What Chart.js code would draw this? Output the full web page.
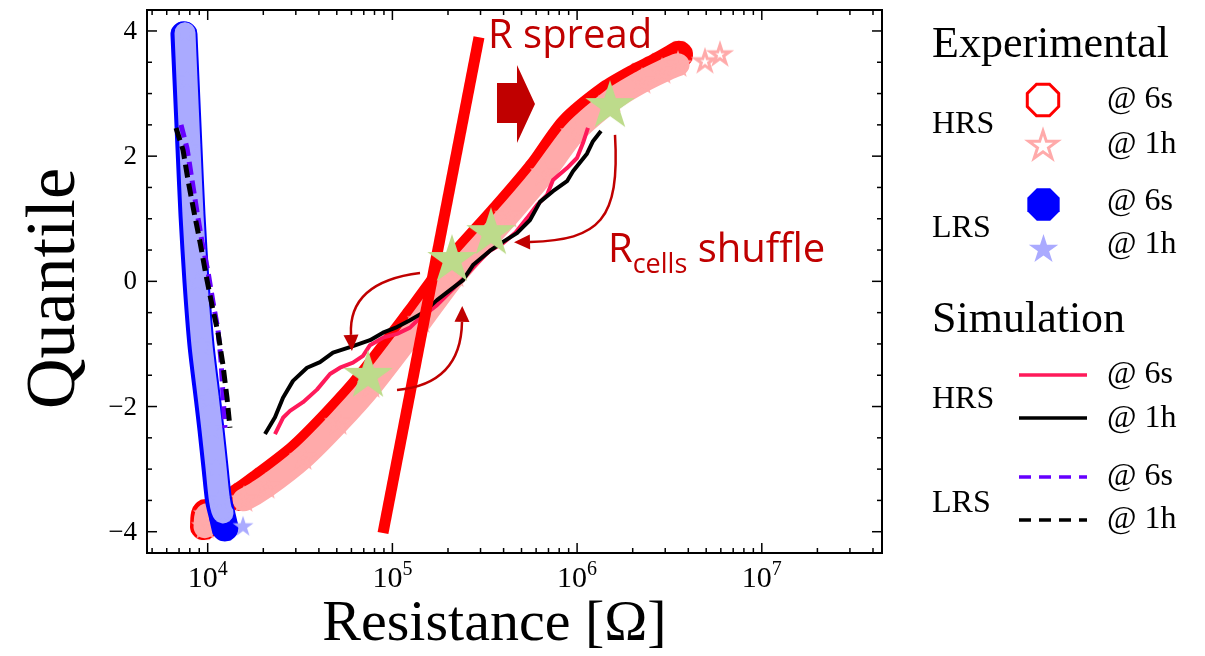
<!DOCTYPE html>
<html><head><meta charset="utf-8">
<script src="https://cdn.jsdelivr.net/npm/chart.js@4/dist/chart.umd.min.js"></script>
<style>html,body{margin:0;padding:0;background:#fff;}canvas{display:block;}</style>
</head><body>
<canvas id="c" width="1205" height="656"></canvas>
<script>
// ---------------- data (Resistance [Ohm], Quantile) ----------------
const xTickDecades = [4, 5, 6, 7];
const yTickLabels = [4, 2, 0, -2, -4];

// Experimental HRS @ 6s (red open octagons)
const hrs6sR = [9550, 9790, 14960, 19440, 30830, 47690, 71950, 134200, 205000, 397000, 621800, 903900, 1470000, 2136000, 2742000, 3561000];
const hrs6sQ = [-3.91, -3.70, -3.44, -3.20, -2.74, -2.18, -1.59, -0.55, 0.18, 1.13, 1.81, 2.47, 2.99, 3.27, 3.43, 3.62];
// Experimental HRS @ 1h (pink open stars)
const hrs1hR = [9670, 9913, 15720, 20690, 32810, 50760, 76590, 142800, 218300, 422500, 661700, 962000, 1545000, 2245000, 2881000, 3517000, 4925000, 5937000];
const hrs1hQ = [-3.92, -3.73, -3.49, -3.28, -2.82, -2.26, -1.67, -0.63, 0.10, 1.05, 1.73, 2.37, 2.90, 3.19, 3.35, 3.46, 3.51, 3.62];
// Experimental LRS @ 6s (blue filled octagons)
const lrs6sR = [7440, 7630, 7920, 8222, 8645, 9198, 9975, 10420, 10950, 11440, 11950, 12410];
const lrs6sQ = [3.94, 3.22, 2.13, 1.06, -0.01, -1.02, -1.89, -2.37, -2.97, -3.49, -3.73, -3.94];
// Experimental LRS @ 1h (light blue filled stars)
const lrs1hR = [7535, 7725, 8022, 8325, 8752, 9314, 10100, 10550, 11090, 11580, 12100, 15530];
const lrs1hQ = [3.97, 3.22, 2.13, 1.06, -0.01, -1.02, -1.89, -2.37, -2.97, -3.49, -3.70, -3.92];

// Simulation HRS @ 6s / @ 1h
const simHrs6sR = [23140, 25570, 27900, 32810, 39050, 45930, 52040, 61180, 69310, 75620, 88930, 105900, 124500, 135900, 174300, 205000, 241100, 287100, 337600, 397000, 461000, 535600, 606600, 687100, 740600, 881900, 998600, 1076000, 1145000];
const simHrs6sQ = [-2.44, -2.18, -2.07, -1.93, -1.73, -1.48, -1.38, -1.30, -1.19, -1.02, -0.90, -0.84, -0.74, -0.63, -0.38, -0.17, 0.04, 0.29, 0.49, 0.61, 0.77, 1.01, 1.22, 1.38, 1.62, 1.81, 1.97, 2.21, 2.45];
const simHrs1hR = [20430, 23140, 25570, 28960, 34490, 40550, 47690, 58940, 75620, 88930, 105900, 124500, 146400, 174300, 205000, 241100, 273100, 337600, 397000, 472600, 555900, 629800, 740600, 881900, 949900, 1131000, 1219000, 1347000];
const simHrs1hQ = [-2.44, -2.17, -1.86, -1.59, -1.38, -1.29, -1.14, -1.05, -0.94, -0.82, -0.73, -0.62, -0.50, -0.30, -0.14, 0.02, 0.26, 0.49, 0.63, 0.77, 0.98, 1.27, 1.44, 1.60, 1.76, 2.04, 2.24, 2.40];
// Simulation LRS @ 6s / @ 1h
const simLrs6sR = [7169, 7725, 8222, 8752, 9314, 10040, 10680, 11370, 11800, 12100, 12410];
const simLrs6sQ = [2.50, 2.13, 1.62, 1.11, 0.63, 0.15, -0.33, -0.78, -1.26, -1.81, -2.34];
const simLrs1hR = [6737, 7351, 7822, 8429, 9085, 9790, 10550, 11370, 12100, 12720, 13200];
const simLrs1hQ = [2.45, 2.10, 1.62, 1.11, 0.63, 0.10, -0.38, -0.82, -1.34, -1.86, -2.34];

// Annotations (data units)
const spreadR = [294300, 88930];
const spreadQ = [3.90, -4.02];
const shuffleStarR = [73780, 210200, 341800, 1507000];
const shuffleStarQ = [-1.51, 0.34, 0.77, 2.80];
const arrowDownPts = [[141100, 0.134], [57500, -0.009], [59680, -0.856]];
const arrowUpPts = [[105900, -1.735], [235100, -1.639], [238100, -0.648]];
const arrowLeftPts = [[1604000, 2.339], [1707000, 0.981], [1330000, 0.661], [555900, 0.630]];
const blockArrowTip = [591600, 2.834];
const spreadLabelAt = [329300, 3.728];
const shuffleLabelAt = [1470000, 0.310];

const legendTitles = ['Experimental', 'Simulation'];
const legendStates = ['HRS', 'LRS'];
const legendTimes = ['@ 6s', '@ 1h'];

// ---------------- styling helpers ----------------
const SERIF = '"Liberation Serif", "Times New Roman", serif';
const SANS = '"Open Sans", "Noto Sans", sans-serif';
const DARKRED = '#c00000';

function makeMarker(shape, r, fill, stroke, lw) {
  const pad = Math.ceil(lw || 0) + 2;
  const s = Math.ceil(2 * r + 2 * pad);
  const cv = document.createElement('canvas');
  cv.width = s; cv.height = s;
  const g = cv.getContext('2d');
  g.translate(s / 2, s / 2);
  g.beginPath();
  if (shape === 'octagon') {
    for (let i = 0; i < 8; i++) {
      const a = Math.PI / 8 + i * Math.PI / 4;
      const px = r * Math.cos(a), py = r * Math.sin(a);
      i ? g.lineTo(px, py) : g.moveTo(px, py);
    }
  } else {
    const ri = r * 0.382;
    for (let i = 0; i < 10; i++) {
      const a = -Math.PI / 2 + i * Math.PI / 5;
      const rr = i % 2 ? ri : r;
      const px = rr * Math.cos(a), py = rr * Math.sin(a);
      i ? g.lineTo(px, py) : g.moveTo(px, py);
    }
  }
  g.closePath();
  if (fill) { g.fillStyle = fill; g.fill(); }
  if (stroke) { g.strokeStyle = stroke; g.lineWidth = lw; g.lineJoin = 'miter'; g.stroke(); }
  return cv;
}

const octRed = makeMarker('octagon', 13, null, '#ff0000', 2.5);
const starPink = makeMarker('star', 10, null, '#ffaaaa', 3);
const octBlue = makeMarker('octagon', 13.5, '#0000ff', null, 0);
const starLB = makeMarker('star', 11, '#aaaaff', null, 0);
const starGreen = makeMarker('star', 26, '#bddb8b', null, 0);

const legOctRed = makeMarker('octagon', 17, null, '#ff0000', 3);
const legStarPink = makeMarker('star', 15, null, '#ffaaaa', 3);
const legOctBlue = makeMarker('octagon', 17.5, '#0000ff', null, 0);
const legStarLB = makeMarker('star', 15.5, '#aaaaff', null, 0);

const pts = (R, Q) => R.map((r, i) => ({ x: r, y: Q[i] }));
const gaps = breaks => ({ borderColor: c => breaks.includes(c.p0DataIndex) ? 'rgba(0,0,0,0)' : undefined });

// ---------------- decorations plugin ----------------
function drawArrowHead(ctx, ex, ey, dx, dy, L, W) {
  const n = Math.hypot(dx, dy); dx /= n; dy /= n;
  ctx.beginPath();
  ctx.moveTo(ex + dx * L, ey + dy * L);
  ctx.lineTo(ex - dy * W / 2, ey + dx * W / 2);
  ctx.lineTo(ex + dy * W / 2, ey - dx * W / 2);
  ctx.closePath();
  ctx.fill();
}

const decor = {
  id: 'decor',
  afterDatasetsDraw(chart) {
    const { ctx, scales: { x, y } } = chart;
    const P = v => [x.getPixelForValue(v[0]), y.getPixelForValue(v[1])];
    ctx.save();
    ctx.strokeStyle = DARKRED; ctx.fillStyle = DARKRED; ctx.lineWidth = 2.5; ctx.lineCap = 'butt';
    [arrowDownPts, arrowUpPts].forEach(a => {
      const [p0, p1, p2] = a.map(P);
      ctx.beginPath(); ctx.moveTo(p0[0], p0[1]); ctx.quadraticCurveTo(p1[0], p1[1], p2[0], p2[1]); ctx.stroke();
      drawArrowHead(ctx, p2[0], p2[1], p2[0] - p1[0], p2[1] - p1[1], 16, 15);
    });
    {
      const [p0, p1, p2, p3] = arrowLeftPts.map(P);
      ctx.beginPath(); ctx.moveTo(p0[0], p0[1]); ctx.bezierCurveTo(p1[0], p1[1], p2[0], p2[1], p3[0], p3[1]); ctx.stroke();
      drawArrowHead(ctx, p3[0], p3[1], p3[0] - p2[0], p3[1] - p2[1], 16, 15);
    }
    {
      const [tx, ty] = P(blockArrowTip);
      const shape = [[-38, -21], [-18, -21], [-18, -39], [0, 0], [-18, 39], [-18, 19], [-38, 19]];
      ctx.beginPath();
      shape.forEach((s, i) => i ? ctx.lineTo(tx + s[0], ty + s[1]) : ctx.moveTo(tx + s[0], ty + s[1]));
      ctx.closePath(); ctx.fill();
    }
    ctx.textAlign = 'left'; ctx.textBaseline = 'alphabetic';
    {
      const [lx, ly] = P(spreadLabelAt);
      ctx.font = `40px ${SANS}`;
      ctx.fillText('R spread', lx, ly);
    }
    {
      let [lx, ly] = P(shuffleLabelAt);
      ctx.font = `40px ${SANS}`;
      ctx.fillText('R', lx, ly);
      lx += ctx.measureText('R').width;
      ctx.font = `27px ${SANS}`;
      ctx.fillText('cells', lx, ly + 11);
      lx += ctx.measureText('cells').width;
      ctx.font = `40px ${SANS}`;
      ctx.fillText(' shuffle', lx, ly);
    }
    ctx.restore();
  },
  afterDraw(chart) {
    const { ctx, chartArea: a, scales: { x, y } } = chart;
    ctx.save();
    ctx.strokeStyle = '#000'; ctx.lineWidth = 2;
    ctx.strokeRect(a.left, a.top, a.right - a.left, a.bottom - a.top);
    ctx.lineWidth = 1.5;
    const seg = (x1, y1, x2, y2) => { ctx.beginPath(); ctx.moveTo(x1, y1); ctx.lineTo(x2, y2); ctx.stroke(); };
    for (let k = 3; k <= 7; k++) {
      for (let m = 1; m <= 9; m++) {
        const v = m * Math.pow(10, k);
        if (v < x.min || v > x.max) continue;
        const px = x.getPixelForValue(v);
        const len = m === 1 ? 10 : 5;
        seg(px, a.bottom, px, a.bottom - len);
        seg(px, a.top, px, a.top + len);
      }
    }
    for (let v = -4; v <= 4.001; v += 0.5) {
      const py = y.getPixelForValue(v);
      const len = Math.abs(v % 2) < 1e-9 ? 10 : 5;
      seg(a.left, py, a.left + len, py);
      seg(a.right, py, a.right - len, py);
    }
    ctx.fillStyle = '#000';
    ctx.font = `27px ${SERIF}`;
    ctx.textAlign = 'right'; ctx.textBaseline = 'middle';
    yTickLabels.forEach(v => {
      ctx.fillText(v < 0 ? '\u2212' + Math.abs(v) : String(v), a.left - 10, y.getPixelForValue(v) + 1);
    });
    ctx.textBaseline = 'alphabetic'; ctx.textAlign = 'left';
    xTickDecades.forEach(d => {
      const px = x.getPixelForValue(Math.pow(10, d));
      ctx.font = `30px ${SERIF}`;
      const w1 = ctx.measureText('10').width;
      ctx.font = `20px ${SERIF}`;
      const w2 = ctx.measureText(String(d)).width;
      const x0 = px - (w1 + w2) / 2;
      ctx.font = `30px ${SERIF}`;
      ctx.fillText('10', x0, a.bottom + 34);
      ctx.font = `20px ${SERIF}`;
      ctx.fillText(String(d), x0 + w1, a.bottom + 22);
    });
    ctx.font = `58px ${SERIF}`;
    ctx.textAlign = 'center';
    ctx.fillText('Resistance [\u03A9]', (a.left + a.right) / 2 - 20, 640);
    ctx.save();
    ctx.translate(74, (a.top + a.bottom) / 2 + 7);
    ctx.rotate(-Math.PI / 2);
    ctx.font = `70px ${SERIF}`;
    ctx.fillText('Quantile', 0, 0);
    ctx.restore();

    ctx.textAlign = 'left';
    ctx.font = `44px ${SERIF}`;
    ctx.fillText(legendTitles[0], 932, 57);
    ctx.fillText(legendTitles[1], 932, 332);
    ctx.font = `32px ${SERIF}`;
    ctx.fillText(legendStates[0], 932, 133);
    ctx.fillText(legendStates[1], 932, 237);
    ctx.fillText(legendStates[0], 932, 408);
    ctx.fillText(legendStates[1], 932, 512);
    [[108, 153], [210, 253], [383, 427], [485, 528]].forEach(([b1, b2]) => {
      ctx.fillText(legendTimes[0], 1107, b1);
      ctx.fillText(legendTimes[1], 1107, b2);
    });
    const img = (cv, cx, cy) => ctx.drawImage(cv, Math.round(cx - cv.width / 2), Math.round(cy - cv.height / 2));
    img(legOctRed, 1043, 100);
    img(legStarPink, 1043, 146);
    img(legOctBlue, 1043, 204);
    img(legStarLB, 1043, 249);
    const legLine = (yy, col, dash) => {
      ctx.strokeStyle = col; ctx.lineWidth = 3.5; ctx.setLineDash(dash);
      seg(1019, yy, 1087, yy);
    };
    legLine(375, '#ff1a5a', []);
    legLine(418, '#000000', []);
    legLine(477, '#6600ff', [12, 8]);
    legLine(520, '#000000', [12, 8]);
    ctx.setLineDash([]);
    ctx.restore();
  }
};

// ---------------- chart ----------------
const band = (label, R, Q, color, width, marker, radius, breaks, order) => ({
  label, data: pts(R, Q), showLine: true, borderColor: color, backgroundColor: color,
  borderWidth: width, borderCapStyle: 'round', borderJoinStyle: 'round', tension: 0.25,
  cubicInterpolationMode: 'default',
  pointStyle: marker, pointRadius: radius, segment: gaps(breaks), order
});
const simLine = (label, R, Q, color, width, dash, order) => ({
  label, data: pts(R, Q), showLine: true, borderColor: color, backgroundColor: color,
  borderWidth: width, borderDash: dash, borderJoinStyle: 'round', tension: 0,
  pointRadius: 0, order
});

new Chart(document.getElementById('c'), {
  type: 'scatter',
  data: {
    datasets: [
      band('HRS @ 6s (exp)', hrs6sR, hrs6sQ, '#ff0000', 28, octRed, 12, [1], 10),
      band('HRS @ 1h (exp)', hrs1hR, hrs1hQ, '#ffaaaa', 23, starPink, 10, [1, 15, 16], 9),
      band('LRS @ 6s (exp)', lrs6sR, lrs6sQ, '#0000ff', 27, octBlue, 12, [], 8),
      band('LRS @ 1h (exp)', lrs1hR, lrs1hQ, '#aaaaff', 21, starLB, 10, [10], 7),
      simLine('LRS @ 6s (sim)', simLrs6sR, simLrs6sQ, '#6600ff', 5, [13, 6], 6),
      simLine('LRS @ 1h (sim)', simLrs1hR, simLrs1hQ, '#000000', 5, [13, 6], 5),
      simLine('HRS @ 6s (sim)', simHrs6sR, simHrs6sQ, '#ff1a5a', 4, [], 4),
      simLine('HRS @ 1h (sim)', simHrs1hR, simHrs1hQ, '#000000', 4, [], 3),
      { label: 'R spread', data: pts(spreadR, spreadQ), showLine: true, borderColor: '#ff0000',
        borderWidth: 11, borderCapStyle: 'butt', pointRadius: 0, order: 2 },
      { label: 'R cells shuffle', data: pts(shuffleStarR, shuffleStarQ), showLine: false,
        pointStyle: starGreen, pointRadius: 20, order: 1 }
    ]
  },
  options: {
    responsive: false, animation: false, devicePixelRatio: 1, events: [],
    layout: { autoPadding: false, padding: { left: 147, top: 10, right: 323, bottom: 103 } },
    scales: {
      x: { type: 'logarithmic', min: 4692, max: 44750000, display: false },
      y: { type: 'linear', min: -4.34, max: 4.335, display: false }
    },
    plugins: { legend: { display: false }, tooltip: { enabled: false } }
  },
  plugins: [decor]
});
</script>
</body></html>
